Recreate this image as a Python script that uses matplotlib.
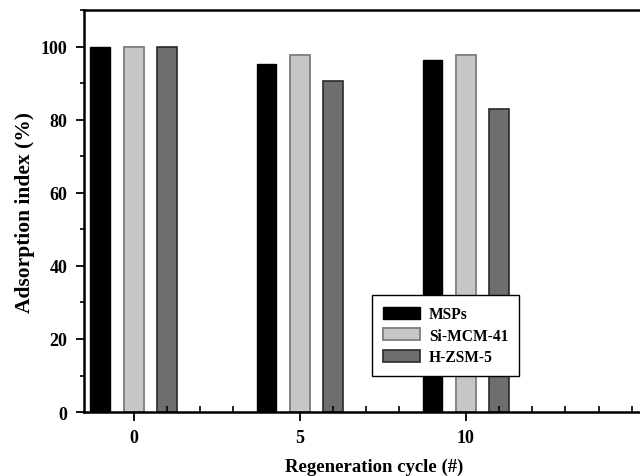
import numpy as np
import matplotlib.pyplot as plt
from matplotlib.ticker import MultipleLocator

cycles = [0, 5, 10]
series = ['MSPs', 'Si-MCM-41', 'H-ZSM-5']
msps = [100, 95.1, 96.4]
si_mcm = [100, 97.7, 97.7]
h_zsm = [100, 90.7, 83.0]

plt.rcParams['font.family'] = ['Liberation Serif', 'DejaVu Serif']
plt.rcParams['font.weight'] = 'bold'

fig = plt.figure(figsize=(6.4, 4.77), dpi=100)
ax = fig.add_axes([0.131, 0.134, 0.908, 0.843])

x = np.array(cycles)
ax.bar(x - 1, msps, width=0.6, color='black', edgecolor='black', linewidth=1.0, label=series[0])
ax.bar(x, si_mcm, width=0.6, color='#c6c6c6', edgecolor='#858585', linewidth=1.4, label=series[1])
ax.bar(x + 1, h_zsm, width=0.6, color='#6e6e6e', edgecolor='#2a2a2a', linewidth=1.2, label=series[2])

ax.set_xlim(-1.5, 16)
ax.set_ylim(0, 110)
ax.set_xticks(cycles)
ax.xaxis.set_minor_locator(MultipleLocator(1))
ax.set_yticks(range(0, 101, 20))
ax.yaxis.set_minor_locator(MultipleLocator(10))

ax.tick_params(axis='x', which='major', direction='out', length=6.5, width=1.3, labelsize=13, pad=6)
ax.tick_params(axis='x', which='minor', direction='in', length=4, width=1.2)
ax.tick_params(axis='y', which='major', direction='out', length=6, width=1.3, labelsize=13, pad=6)
ax.tick_params(axis='y', which='minor', direction='out', length=3, width=1.2)

for s in ax.spines.values():
    s.set_linewidth(1.8)
ax.spines['right'].set_visible(False)

ax.set_xlabel('Regeneration cycle (#)', fontsize=13.5, fontweight='bold', labelpad=8)
ax.set_ylabel('Adsorption index (%)', fontsize=15.5, fontweight='bold', labelpad=4)

leg = ax.legend(loc='lower left', bbox_to_anchor=(0.496, 0.09), borderaxespad=0, fontsize=11.2,
                fancybox=False, edgecolor='black', framealpha=1,
                handlelength=2.35, handleheight=0.8, handletextpad=0.6,
                borderpad=0.7, labelspacing=0.35)
leg.get_frame().set_linewidth(1.0)

fig.savefig('out.png', dpi=100)
